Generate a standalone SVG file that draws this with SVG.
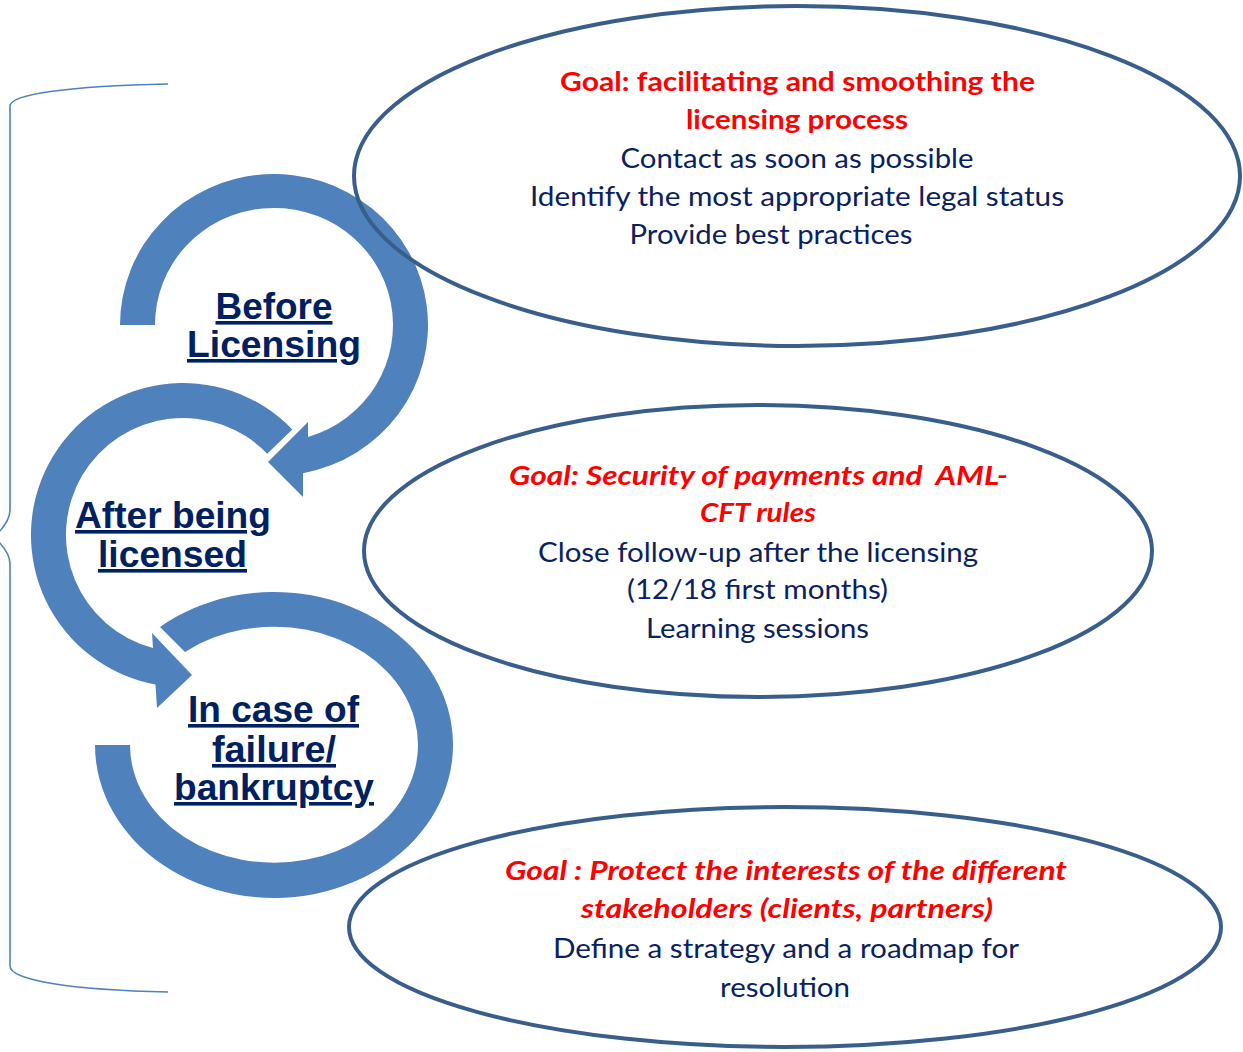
<svg xmlns="http://www.w3.org/2000/svg" width="1243" height="1052" viewBox="0 0 1243 1052">
<style>
.band{fill:#4F81BD;stroke:none}
.oval{fill:none;stroke:#3A5E8C;stroke-width:4}
.brace{fill:none;stroke:#4F81BD;stroke-width:1.6}
.lbl{font-family:"Liberation Sans",Arial,sans-serif;font-weight:bold;font-size:36px;fill:#002060;text-anchor:middle;text-decoration:underline}
.goal{font-family:Lato,"Open Sans",sans-serif;font-weight:bold;font-size:26px;fill:#FF0000;text-anchor:middle}
.gi{font-style:italic}
.body{font-family:Lato,"Open Sans",sans-serif;font-size:26px;fill:#0A2160;text-anchor:middle}
</style>
<rect width="1243" height="1052" fill="#FFFFFF"/>
<g id="connectors">
<path class="brace" d="M168,84 C70,86 10,94 10,106 L10,510 Q10,522 -6,537 Q10,552 10,564 L10,966 C10,980 70,990 168,992"/>
</g>
<g id="cycle-before">
<path class="band" d="M120,325 A154 151 0 1 1 303,473.3 L303,497 L268,462 L308,422 L308,437 A119 117 0 1 0 155,325 Z"/>
</g>
<g id="cycle-after">
<path class="band" d="M292.3,429.4 A152 152 0 1 0 155.5,684.5 L157,708 L192,675 L152,633 L153,648 A117 117 0 1 1 267.2,453.7 Z"/>
</g>
<g id="cycle-failure">
<path class="band" d="M160,627 A179 153 0 1 1 95,745 L130,745 A144 118 0 1 0 185,652 Z"/>
</g>
<g id="label-before">
<text class="lbl" x="274" y="319" textLength="117" lengthAdjust="spacingAndGlyphs">Before</text>
<text class="lbl" x="274" y="357" textLength="174" lengthAdjust="spacingAndGlyphs">Licensing</text>
</g>
<g id="label-after">
<text class="lbl" x="173" y="528" textLength="196" lengthAdjust="spacingAndGlyphs">After being</text>
<text class="lbl" x="172.5" y="567" textLength="149" lengthAdjust="spacingAndGlyphs">licensed</text>
</g>
<g id="label-failure">
<text class="lbl" x="273.5" y="722" textLength="171" lengthAdjust="spacingAndGlyphs">In case of</text>
<text class="lbl" x="274" y="762" textLength="124" lengthAdjust="spacingAndGlyphs">failure/</text>
<text class="lbl" x="274" y="800" textLength="200" lengthAdjust="spacingAndGlyphs">bankruptcy</text>
</g>
<g id="goal-1">
<ellipse class="oval" cx="797" cy="176" rx="443" ry="170"/>
<text class="goal" x="797.5" y="91" textLength="475" lengthAdjust="spacingAndGlyphs">Goal: facilitating and smoothing the</text>
<text class="goal" x="797" y="129" textLength="222" lengthAdjust="spacingAndGlyphs">licensing process</text>
<text class="body" x="797" y="168" textLength="353" lengthAdjust="spacingAndGlyphs">Contact as soon as possible</text>
<text class="body" x="797" y="206" textLength="534" lengthAdjust="spacingAndGlyphs">Identify the most appropriate legal status</text>
<text class="body" x="771" y="244" textLength="283" lengthAdjust="spacingAndGlyphs">Provide best practices</text>
</g>
<g id="goal-2">
<ellipse class="oval" cx="758" cy="551" rx="394" ry="146"/>
<text class="goal gi" x="758.5" y="485" textLength="499" lengthAdjust="spacingAndGlyphs" xml:space="preserve">Goal: Security of payments and  AML-</text>
<text class="goal gi" x="758" y="522" textLength="116" lengthAdjust="spacingAndGlyphs">CFT rules</text>
<text class="body" x="758" y="562" textLength="440" lengthAdjust="spacingAndGlyphs">Close follow-up after the licensing</text>
<text class="body" x="757.5" y="599" textLength="261" lengthAdjust="spacingAndGlyphs">(12/18 first months)</text>
<text class="body" x="757.5" y="638" textLength="223" lengthAdjust="spacingAndGlyphs">Learning sessions</text>
</g>
<g id="goal-3">
<ellipse class="oval" cx="785" cy="927" rx="436" ry="120"/>
<text class="goal gi" x="786" y="880" textLength="562" lengthAdjust="spacingAndGlyphs">Goal : Protect the interests of the different</text>
<text class="goal gi" x="787" y="918" textLength="412" lengthAdjust="spacingAndGlyphs">stakeholders (clients, partners)</text>
<text class="body" x="786" y="958" textLength="466" lengthAdjust="spacingAndGlyphs">Define a strategy and a roadmap for</text>
<text class="body" x="785" y="997" textLength="130" lengthAdjust="spacingAndGlyphs">resolution</text>
</g>
</svg>
